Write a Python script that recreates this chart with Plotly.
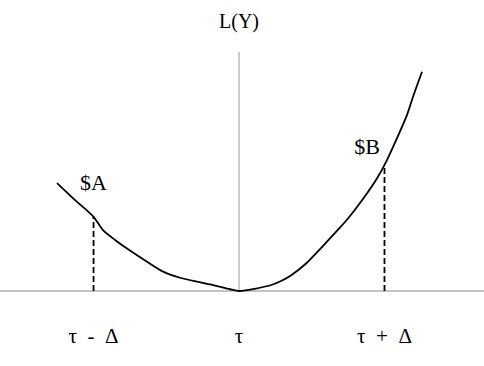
import plotly.graph_objects as go

# Loss curve L(Y); x in units of Delta around tau (tau = 0), y in the same units
curve_x = [-1.251, -1.127, -1.0, -0.935, -0.852, -0.770, -0.632, -0.522, -0.406,
           -0.289, -0.179, -0.062, 0.0,
           0.117, 0.227, 0.296, 0.364, 0.461, 0.570, 0.687, 0.756, 0.852, 0.949,
           1.017, 1.086, 1.155, 1.196, 1.258]
curve_y = [0.742, 0.625, 0.510, 0.419, 0.351, 0.292, 0.201, 0.133, 0.091,
           0.064, 0.041, 0.012, 0.0,
           0.017, 0.043, 0.072, 0.112, 0.189, 0.302, 0.428, 0.507, 0.632, 0.775,
           0.900, 1.050, 1.210, 1.335, 1.507]

tick_vals = [-1, 0, 1]
tick_text = ["τ\u00a0\u00a0-\u00a0\u00a0Δ", "τ", "τ\u00a0\u00a0+\u00a0\u00a0Δ"]

# dashed drop lines at tau-Delta and tau+Delta (heights on curve)
drop_x = [-1.0, 1.0]
drop_y = [0.510, 0.860]

# axis guide lines
haxis_x = [-2.0, 2.0]
haxis_y = [0.0, 0.0]
vaxis_x = [0.0, 0.0]
vaxis_y = [0.0, 1.643]

labels = ["$A", "$B"]
label_x = [-1.0, 0.880]
label_y = [0.734, 0.979]

serif = "Liberation Serif, Times New Roman, serif"

fig = go.Figure()
fig.add_trace(go.Scatter(x=haxis_x, y=haxis_y, mode="lines",
                         line=dict(color="#c4c4c4", width=2), hoverinfo="skip"))
fig.add_trace(go.Scatter(x=vaxis_x, y=vaxis_y, mode="lines",
                         line=dict(color="#999999", width=1), hoverinfo="skip"))
for dx, dy in zip(drop_x, drop_y):
    fig.add_trace(go.Scatter(x=[dx, dx], y=[0, dy], mode="lines",
                             line=dict(color="black", width=1.8, dash="6px,3px"),
                             hoverinfo="skip"))
fig.add_trace(go.Scatter(x=curve_x, y=curve_y, mode="lines",
                         line=dict(color="black", width=1.8, shape="spline", smoothing=0.7)))
fig.add_trace(go.Scatter(x=label_x, y=label_y, mode="text", text=labels,
                         textfont=dict(family=serif, size=22, color="black"),
                         hoverinfo="skip"))

fig.add_annotation(text="L(Y)", x=0, y=1.0, xref="x", yref="paper",
                   yanchor="top", yshift=-8, showarrow=False,
                   font=dict(family=serif, size=20, color="black"))

fig.update_layout(
    width=484, height=366,
    margin=dict(l=0, r=0, t=0, b=70),
    paper_bgcolor="white", plot_bgcolor="white",
    showlegend=False,
)
fig.update_xaxes(range=[-1.643, 1.684], showgrid=False, zeroline=False,
                 showline=False, tickvals=tick_vals, ticktext=tick_text,
                 ticks="", ticklabelstandoff=25,
                 tickfont=dict(family=serif, size=21, color="black"))
fig.update_yaxes(range=[-0.0344, 2.0], showgrid=False, zeroline=False,
                 showline=False, showticklabels=False, ticks="")

fig.write_html("out.html")
